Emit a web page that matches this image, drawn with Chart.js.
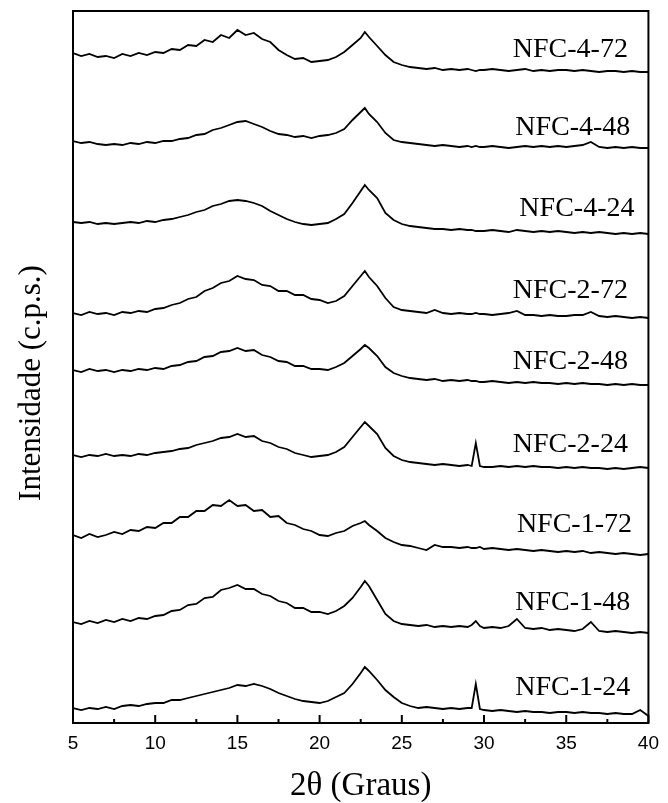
<!DOCTYPE html>
<html>
<head>
<meta charset="utf-8">
<script src="https://cdn.jsdelivr.net/npm/chart.js@4.4.0/dist/chart.umd.min.js"></script>
<style>
  html, body { margin: 0; padding: 0; background: #fff; }
</style>
</head>
<body>
<canvas id="xrd" width="668" height="803"></canvas>
<script>
// 2θ positions (degrees)
const twoTheta = [
  5, 5.5, 6, 6.5, 7, 7.5, 8, 8.5, 9, 9.5, 10, 10.5, 11, 11.5, 12, 12.5, 13, 13.5,
  14, 14.5, 15, 15.5, 16, 16.5, 17, 17.5, 18, 18.5, 19, 19.5, 20, 20.5, 21, 21.5, 22, 22.5,
  22.75,
  23, 23.5, 24, 24.5, 25, 25.5, 26, 26.5, 27, 27.5, 28, 28.5, 29,
  29.25, 29.5, 29.75,
  30, 30.5, 31, 31.5, 32, 32.5, 33, 33.5, 34, 34.5, 35, 35.5, 36, 36.5, 37, 37.5, 38, 38.5, 39, 39.5, 40
];

// stacked intensities (offset curves, arbitrary c.p.s.)
const nfc4_72 = [
  670, 667, 669, 666, 667, 665, 669, 667, 670, 668, 671, 670, 674, 673, 678, 677, 683, 681,
  688, 685, 693, 688, 690, 684, 681, 673, 668, 664, 665, 661, 662, 663, 666, 671, 678, 685,
  691,
  686, 677, 668, 661, 658, 656, 655, 654, 655, 653, 654, 653, 654,
  653, 652, 653,
  653, 654, 653, 652, 653, 654, 652, 653, 652, 653, 653, 652, 653, 652, 651, 652, 652, 651, 652, 651, 651
];
const nfc4_48 = [
  582, 580, 581, 579, 578, 579, 578, 580, 579, 581, 580, 582, 582, 584, 585, 588, 589, 593,
  595, 598, 601, 602, 599, 596, 592, 589, 588, 586, 587, 585, 587, 588, 590, 594, 603, 611,
  615,
  609, 601, 590, 583, 581, 580, 579, 578, 577, 578, 577, 576, 577,
  576, 577, 576,
  576, 577, 576, 575, 576, 577, 576, 577, 576, 577, 576, 577, 578, 581, 576, 575, 576, 575, 576, 575, 575
];
const nfc4_24 = [
  501, 500, 501, 499, 500, 499, 500, 501, 500, 502, 501, 503, 504, 506, 508, 511, 513, 517,
  519, 522, 523, 522, 520, 517, 512, 508, 504, 501, 499, 498, 499, 500, 504, 509, 520, 532,
  538,
  533, 525, 510, 503, 499, 497, 496, 495, 494, 494, 493, 494, 493,
  493, 492, 492,
  492, 493, 492, 491, 493, 492, 491, 492, 491, 492, 491, 490, 491, 490, 491, 490, 489, 490, 489, 490, 489
];
const nfc2_72 = [
  410, 408, 411, 409, 410, 408, 411, 410, 412, 411, 414, 415, 418, 420, 424, 426, 432, 435,
  440, 442, 447, 444, 443, 438, 437, 432, 432, 428, 428, 424, 423, 420, 422, 427, 437, 447,
  452,
  446, 437, 425, 416, 413, 412, 411, 410, 413, 410, 409, 410, 409,
  409, 410, 409,
  409, 408, 409, 410, 412, 408, 408, 407, 408, 407, 407, 408, 408, 411, 407, 406, 407, 406, 405, 406, 405
];
const nfc2_48 = [
  353, 351, 354, 352, 353, 351, 353, 352, 354, 353, 355, 354, 357, 358, 361, 362, 366, 367,
  371, 372, 375, 372, 373, 368, 366, 362, 361, 357, 357, 354, 354, 353, 356, 360, 367, 374,
  378,
  375, 367, 356, 350, 347, 345, 344, 343, 344, 342, 343, 342, 343,
  342, 342, 341,
  341, 342, 341, 340, 341, 340, 341, 340, 340, 339, 340, 339, 340, 339, 339, 338, 339, 338, 339, 338, 338
];
const nfc2_24 = [
  268, 266, 268, 267, 269, 267, 268, 267, 269, 268, 270, 271, 272, 274, 275, 278, 280, 282,
  285, 286, 289, 286, 287, 282, 280, 276, 274, 270, 268, 266, 267, 268, 271, 276, 286, 296,
  301,
  297, 289, 275, 267, 263, 261, 260, 259, 258, 259, 258, 257, 258,
  257, 280, 257,
  256, 256, 257, 256, 257, 256, 257, 256, 256, 255, 256, 255, 256, 255, 255, 254, 255, 254, 255, 256, 255
];
const nfc1_72 = [
  188, 185, 189, 186, 188, 191, 189, 193, 192, 196, 195, 200, 200, 206, 206, 212, 212, 218,
  217, 223, 217, 218, 212, 213, 206, 207, 200, 198, 194, 192, 188, 187, 190, 192, 197, 200,
  202,
  198, 192, 185, 181, 178, 177, 175, 173, 178, 176, 176, 175, 176,
  175, 175, 176,
  174, 175, 174, 173, 174, 173, 172, 173, 172, 171, 172, 171, 172, 170, 171, 170, 169, 170, 169, 168, 169
];
const nfc1_48 = [
  101, 99, 102, 100, 103, 101, 104, 102, 105, 104, 107, 108, 112, 113, 118, 119, 125, 126,
  133, 135, 138, 134, 134, 129, 127, 122, 120, 115, 115, 111, 111, 109, 112, 117, 125, 136,
  142,
  137, 123, 109, 102, 99, 98, 97, 98, 96, 97, 96, 97, 96,
  98, 102, 97,
  95, 96, 95, 97, 104, 95, 94, 95, 93, 94, 93, 92, 94, 101, 92, 91, 92, 91, 90, 91, 90
];
const nfc1_24 = [
  15, 13, 15, 14, 16, 14, 17, 18, 17, 19, 20, 20, 23, 23, 25, 27, 29, 31,
  33, 35, 38, 37, 39, 37, 34, 30, 27, 24, 22, 21, 20, 22, 26, 30, 39, 50,
  56,
  52, 43, 33, 26, 20, 17, 15, 16, 15, 14, 15, 14, 15,
  15, 39, 14,
  13, 12, 13, 12, 11, 12, 11, 11, 10, 11, 11, 10, 11, 10, 10, 9, 10, 9, 9, 13, 7
];

const sampleNames = ['NFC-4-72', 'NFC-4-48', 'NFC-4-24', 'NFC-2-72', 'NFC-2-48',
                     'NFC-2-24', 'NFC-1-72', 'NFC-1-48', 'NFC-1-24'];
const curves = [nfc4_72, nfc4_48, nfc4_24, nfc2_72, nfc2_48, nfc2_24, nfc1_72, nfc1_48, nfc1_24];

// where each name sits (right edge in 2θ, middle in intensity)
const labelAt2Theta = [38.75, 38.9, 39.15, 38.75, 38.75, 38.75, 39.0, 38.9, 38.9];
const labelAtIntensity = [673, 595, 514, 432, 361, 278, 198, 120, 35];

const serif = '"Liberation Serif", "Times New Roman", serif';

const datasets = curves.map((vals, i) => ({
  label: sampleNames[i],
  data: vals.map((v, j) => ({ x: twoTheta[j], y: v })),
  borderColor: '#000',
  borderWidth: 1.8,
  pointRadius: 0,
  tension: 0,
  fill: false
}));

// frame, inward x ticks, y title and the sample names
const framePlugin = {
  id: 'frame',
  afterDatasetsDraw(chart) {
    const { ctx, chartArea: a, scales: { x, y } } = chart;
    ctx.save();
    ctx.strokeStyle = '#000';
    ctx.lineWidth = 2;
    ctx.strokeRect(a.left, a.top, a.right - a.left, a.bottom - a.top);
    x.ticks.forEach(t => {
      const px = x.getPixelForValue(t.value);
      const len = t.value % 5 === 0 ? 8 : 4;
      ctx.beginPath();
      ctx.moveTo(px, a.bottom);
      ctx.lineTo(px, a.bottom - len);
      ctx.stroke();
    });
    ctx.fillStyle = '#000';
    ctx.font = '28px ' + serif;
    ctx.textAlign = 'right';
    ctx.textBaseline = 'middle';
    sampleNames.forEach((name, i) => {
      ctx.fillText(name, x.getPixelForValue(labelAt2Theta[i]), y.getPixelForValue(labelAtIntensity[i]));
    });
    // y axis title, sits a bit below the middle of the frame
    ctx.translate(32, 383);
    ctx.rotate(-Math.PI / 2);
    ctx.textAlign = 'center';
    ctx.font = '31px ' + serif;
    ctx.fillText('Intensidade (c.p.s.)', 0, 0);
    ctx.restore();
  }
};

new Chart(document.getElementById('xrd'), {
  type: 'line',
  data: { datasets },
  plugins: [framePlugin],
  options: {
    responsive: false,
    animation: false,
    layout: { padding: { top: 11, right: 15, left: 0, bottom: 0 } },
    plugins: { legend: { display: false }, tooltip: { enabled: false } },
    scales: {
      x: {
        type: 'linear',
        min: 5,
        max: 40,
        grid: { display: false, drawTicks: false },
        border: { display: false },
        ticks: {
          stepSize: 2.5,
          autoSkip: false,
          maxRotation: 0,
          padding: 9,
          color: '#000',
          font: { family: '"Liberation Sans", Arial, sans-serif', size: 19 },
          callback: v => (v % 5 === 0 ? v : '')
        },
        title: {
          display: true,
          text: '2θ (Graus)',
          color: '#000',
          font: { family: serif, size: 33, lineHeight: 1 },
          padding: { top: 0, bottom: 0 }
        },
        afterFit: s => { s.height = 80; }
      },
      y: {
        min: 0,
        max: 712,
        grid: { display: false, drawTicks: false },
        border: { display: false },
        ticks: { display: false },
        title: { display: false },
        afterFit: s => { s.width = 73; }
      }
    }
  }
});
</script>
</body>
</html>
